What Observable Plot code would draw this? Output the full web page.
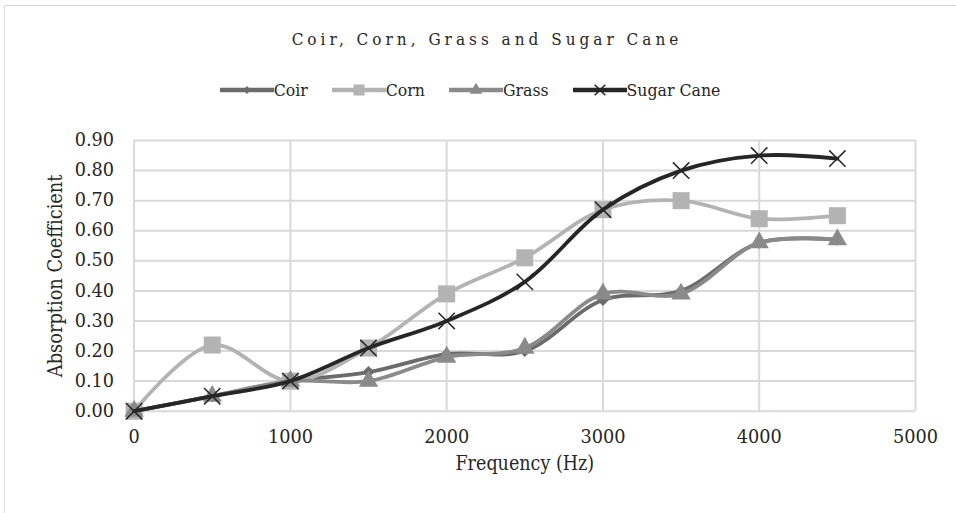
<!DOCTYPE html>
<html><head><meta charset="utf-8">
<script src="https://cdn.jsdelivr.net/npm/d3@7"></script>
<script src="https://cdn.jsdelivr.net/npm/@observablehq/plot@0.6"></script>
<style>
body{margin:0;background:#fff;}
#wrap{position:relative;width:956px;height:513px;overflow:hidden;font-family:"DejaVu Serif Condensed","DejaVu Serif",serif;color:#262626;}
#frame{position:absolute;left:4px;top:5px;width:1000px;height:600px;border:1.5px solid #d9d9d9;box-sizing:border-box;}
#title{position:absolute;left:0;width:974px;top:27px;height:24px;line-height:24px;text-align:center;font-size:17px;letter-spacing:4px;}
#legend{position:absolute;left:0;width:940px;top:78px;height:24px;display:flex;justify-content:center;align-items:center;font-size:17.5px;}
.item{display:flex;align-items:center;margin-right:24px;}
.item:last-child{margin-right:0;}
#chart{position:absolute;left:0;top:110px;}
</style>
</head><body>
<div id="wrap">
<div id="frame"></div>
<div id="title">Coir, Corn, Grass and Sugar Cane</div>
<div id="legend"></div>
<div id="chart"></div>
</div>
<script>
const freq = [0, 500, 1000, 1500, 2000, 2500, 3000, 3500, 4000, 4500];
const coir = [0.00, 0.05, 0.10, 0.13, 0.19, 0.20, 0.37, 0.40, 0.56, 0.57];
const corn = [0.00, 0.22, 0.10, 0.21, 0.39, 0.51, 0.67, 0.70, 0.64, 0.65];
const grass = [0.00, 0.05, 0.10, 0.10, 0.18, 0.21, 0.39, 0.39, 0.56, 0.57];
const sugarCane = [0.00, 0.05, 0.10, 0.21, 0.30, 0.43, 0.67, 0.80, 0.85, 0.84];
const seriesNames = ["Coir", "Corn", "Grass", "Sugar Cane"];
const xTicks = [0, 1000, 2000, 3000, 4000, 5000];
const yTicks = [0, 0.1, 0.2, 0.3, 0.4, 0.5, 0.6, 0.7, 0.8, 0.9];

const seriesValues = [coir, corn, grass, sugarCane];
const style = {
  "Coir": {color: "#6b6b6b", symbol: "diamond2", r: 5.4, fill: true},
  "Corn": {color: "#b3b3b3", symbol: "square", r: 9.6, fill: true},
  "Grass": {color: "#8a8a8a", symbol: "triangle", r: 7.2, fill: true},
  "Sugar Cane": {color: "#262626", symbol: "times", r: 7.5, fill: false}
};
const rows = seriesNames.map((name, i) => freq.map((f, j) => ({series: name, freq: f, value: seriesValues[i][j]})));

const tickFont = "DejaVu Serif, serif";
const titleFont = "DejaVu Serif Condensed, DejaVu Serif, serif";
const marks = [
  Plot.gridX(xTicks, {stroke: "#d9d9d9", strokeOpacity: 1, strokeWidth: 2}),
  Plot.gridY(yTicks, {stroke: "#d9d9d9", strokeOpacity: 1, strokeWidth: 2}),
  Plot.axisX(xTicks, {tickSize: 0, tickPadding: 19, fontSize: 17.7, fontFamily: tickFont, label: null, tickFormat: d => String(d), fill: "#262626"}),
  Plot.axisY(yTicks, {tickSize: 0, tickPadding: 20, fontSize: 17.7, fontFamily: tickFont, label: null, tickFormat: d3.format(".2f"), fill: "#262626"}),
  Plot.text(["Absorption Coefficient"], {frameAnchor: "left", textAnchor: "middle", dx: -78.6, rotate: -90, fontSize: 19.8, fontFamily: titleFont, fill: "#262626"}),
  Plot.text(["Frequency (Hz)"], {frameAnchor: "bottom", textAnchor: "middle", dy: 59, fontSize: 19.5, fontFamily: titleFont, fill: "#262626"})
];
seriesNames.forEach((name, i) => {
  const s = style[name];
  marks.push(Plot.line(rows[i], {x: "freq", y: "value", stroke: s.color, strokeWidth: 3.8, curve: "catmull-rom"}));
  marks.push(Plot.dot(rows[i], {x: "freq", y: "value", symbol: () => s.symbol, r: s.r,
    fill: s.fill ? s.color : "none", stroke: s.fill ? "none" : s.color, strokeWidth: 1.5}));
});

const chart = Plot.plot({
  width: 956,
  height: 403,
  marginLeft: 133.6,
  marginRight: 41,
  marginTop: 30,
  marginBottom: 102.3,
  style: {fontFamily: tickFont, fontSize: "18px", background: "transparent", color: "#262626"},
  x: {domain: [0, 5000]},
  y: {domain: [0, 0.9]},
  symbol: {type: "identity"},
  marks
});
document.getElementById("chart").appendChild(chart);

// legend
const legend = d3.select("#legend");
const symMap = {diamond2: d3.symbolDiamond2, square: d3.symbolSquare, triangle: d3.symbolTriangle, times: d3.symbolTimes};
seriesNames.forEach(name => {
  const s = style[name];
  const item = legend.append("div").attr("class", "item");
  const svg = item.append("svg").attr("width", 54).attr("height", 20);
  svg.append("line").attr("x1", 0).attr("x2", 54).attr("y1", 10).attr("y2", 10)
    .attr("stroke", s.color).attr("stroke-width", 4.5);
  const size = Math.PI * (s.r * 0.65) ** 2;
  svg.append("path").attr("transform", "translate(27,10)")
    .attr("d", d3.symbol(symMap[s.symbol], size)())
    .attr("fill", s.fill ? s.color : "none").attr("stroke", s.fill ? "none" : s.color).attr("stroke-width", 1.5);
  item.append("span").text(name);
});
</script>
</body></html>
